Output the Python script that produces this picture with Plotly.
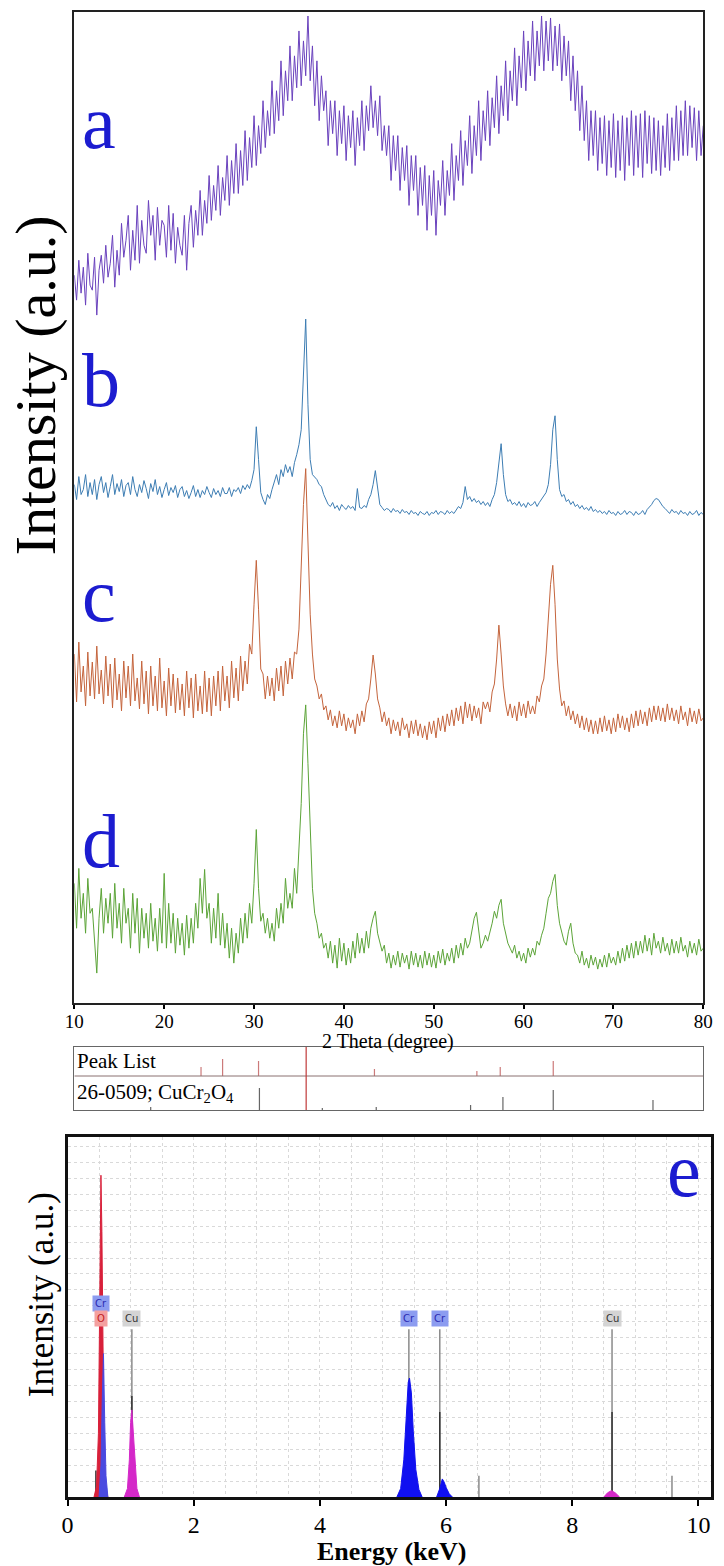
import plotly.graph_objects as go

W, H = 724, 1566

# ---------------- XRD data (2 theta grid, offset intensities in a.u.) ----------------
TWO_THETA = [round(10 + 0.25 * i, 2) for i in range(281)]

XRD_A = [
    730, 705, 745, 712, 738, 700, 752, 720, 715, 748, 690, 735, 750, 722, 760, 728,
    742, 770, 718, 755, 730, 782, 748, 765, 790, 735, 775, 745, 800, 742, 785, 760,
    752, 805, 770, 790, 745, 798, 760, 785, 780, 748, 800, 755, 792, 742, 778, 760,
    750, 790, 735, 782, 800, 758, 795, 770, 815, 770, 805, 782, 830, 785, 820, 795,
    840, 790, 828, 805, 850, 800, 845, 812, 862, 812, 855, 820, 875, 825, 868, 838,
    890, 840, 880, 852, 905, 858, 895, 870, 925, 872, 915, 885, 945, 890, 935, 905,
    960, 905, 950, 918, 975, 920, 965, 930, 990, 925, 960, 900, 945, 885, 930, 895,
    915, 860, 905, 872, 905, 850, 895, 862, 900, 845, 890, 858, 895, 840, 888, 860,
    905, 855, 900, 875, 920, 878, 905, 870, 910, 855, 880, 850, 880, 825, 870, 835,
    870, 815, 858, 825, 860, 800, 850, 815, 850, 790, 838, 800, 840, 775, 830, 790,
    835, 770, 825, 800, 845, 790, 835, 810, 862, 805, 850, 825, 875, 820, 865, 840,
    890, 832, 880, 850, 905, 845, 895, 865, 915, 860, 908, 878, 930, 872, 920, 890,
    945, 885, 935, 905, 958, 900, 950, 918, 975, 915, 965, 930, 985, 925, 975, 940,
    990, 935, 985, 945, 988, 935, 980, 940, 982, 925, 970, 930, 965, 905, 950, 895,
    935, 875, 920, 865, 905, 845, 895, 850, 895, 835, 888, 842, 890, 830, 885, 838,
    892, 828, 885, 835, 890, 825, 888, 840, 895, 830, 890, 838, 892, 828, 895, 842,
    890, 832, 888, 835, 885, 830, 880, 838, 892, 835, 888, 845, 900, 845, 895, 850,
    905, 850, 900, 858, 898, 845, 895, 850, 880,
]

XRD_B = [
    520, 505, 528, 510, 515, 530, 508, 522, 510, 525, 505, 520, 528, 512, 522, 507,
    518, 530, 510, 521, 513, 525, 508, 519, 522, 510, 528, 515, 508, 520, 512, 524,
    516, 506, 521, 513, 525, 510, 518, 507, 515, 522, 509, 517, 512, 519, 507, 515,
    518, 508, 514, 506, 512, 519, 508, 515, 507, 514, 510, 518, 512, 507, 516, 510,
    514, 508, 517, 511, 511, 517, 508, 515, 513, 517, 511, 519, 515, 520, 516, 524,
    535, 578, 545, 512, 505, 500, 510, 506, 515, 522, 530, 520, 535, 528, 540, 532,
    538, 528, 542, 550, 560, 575, 640, 686, 600, 545, 530, 528, 525, 520, 518, 510,
    505, 500, 498, 502, 496, 499, 494, 500, 497, 495, 499, 496, 498, 494, 516, 497,
    496, 499, 497, 505, 510, 520, 534, 515, 500, 497, 494, 496, 495, 492, 496, 493,
    494, 491, 495, 492, 493, 490, 494, 491, 492, 489, 493, 491, 490, 493, 489, 492,
    491, 494, 490, 493, 492, 490, 494, 491, 493, 491, 495, 498, 496, 502, 518, 505,
    508, 503, 506, 502, 504, 500, 503, 499, 502, 498, 505, 510, 522, 545, 561, 530,
    510, 503, 505, 500, 502, 499, 503, 498, 501, 497, 502, 499, 500, 503, 498, 502,
    505, 508, 512, 520, 540, 575, 589, 545, 515, 508, 510, 503, 505, 500, 503, 498,
    500, 496, 499, 495, 497, 494, 498, 493, 495, 492, 494, 491, 493, 490, 494, 491,
    492, 489, 493, 490, 491, 494, 490, 493, 492, 489, 493, 490, 491, 494, 490, 495,
    497, 500, 504, 506, 505, 501, 498, 496, 494, 491, 495, 492, 493, 490, 494, 491,
    492, 489, 493, 490, 491, 494, 489, 492, 490,
]

XRD_C = [
    350, 302, 362, 312, 338, 298, 352, 308, 342, 305, 358, 310, 334, 300, 348, 308,
    340, 296, 346, 304, 330, 293, 343, 306, 338, 298, 350, 303, 326, 295, 343, 300,
    333, 290, 338, 298, 328, 293, 346, 296, 323, 288, 336, 298, 330, 291, 326, 294,
    320, 288, 333, 296, 326, 286, 330, 293, 318, 290, 333, 292, 326, 288, 328, 298,
    333, 293, 338, 303, 328, 296, 343, 306, 336, 303, 348, 313, 343, 320, 360, 350,
    400, 444, 395, 335, 330, 305, 328, 308, 326, 303, 336, 313, 338, 308, 343, 320,
    346, 325, 352, 350, 375, 430, 500, 536, 470, 390, 350, 325, 318, 305, 310, 294,
    298, 284, 294, 278, 288, 276, 293, 278, 290, 273, 286, 276, 284, 270, 290, 278,
    293, 282, 300, 305, 325, 349, 330, 305, 296, 282, 292, 278, 286, 270, 284, 273,
    282, 268, 286, 274, 280, 266, 283, 270, 284, 268, 280, 266, 278, 264, 282, 270,
    283, 266, 286, 273, 288, 272, 290, 278, 294, 278, 296, 283, 298, 280, 302, 286,
    300, 283, 298, 286, 296, 280, 302, 295, 302, 292, 312, 320, 345, 379, 350, 318,
    300, 288, 300, 286, 298, 283, 302, 288, 300, 286, 303, 290, 298, 290, 308, 302,
    318, 325, 350, 390, 420, 439, 400, 345, 315, 298, 303, 288, 298, 284, 293, 280,
    290, 276, 288, 274, 286, 272, 284, 270, 283, 270, 286, 272, 288, 273, 284, 270,
    286, 272, 290, 276, 288, 274, 286, 272, 290, 276, 293, 278, 294, 280, 292, 278,
    296, 282, 298, 284, 298, 283, 296, 282, 300, 284, 296, 283, 294, 280, 298, 284,
    292, 278, 296, 282, 293, 280, 295, 283, 286,
]

XRD_D = [
    120, 75, 135, 85, 110, 70, 125, 90, 95, 60, 30, 85, 115, 70, 105, 80,
    110, 65, 120, 75, 100, 60, 115, 80, 95, 55, 110, 70, 105, 50, 95, 65,
    90, 55, 100, 62, 85, 52, 95, 60, 130, 55, 100, 60, 90, 50, 85, 58,
    80, 48, 88, 55, 85, 60, 100, 75, 125, 90, 134, 85, 100, 60, 95, 65,
    110, 58, 90, 55, 80, 45, 75, 40, 70, 50, 85, 60, 90, 65, 100, 80,
    120, 174, 115, 82, 90, 70, 85, 65, 80, 62, 95, 75, 100, 80, 125, 95,
    110, 95, 135, 110, 150, 200, 270, 299, 240, 170, 115, 90, 80, 65, 70, 55,
    60, 45, 62, 40, 58, 35, 65, 42, 60, 38, 55, 40, 62, 45, 70, 50,
    65, 50, 72, 55, 75, 85, 92, 70, 60, 52, 58, 40, 50, 35, 48, 38,
    52, 36, 50, 40, 48, 34, 52, 38, 50, 36, 48, 35, 52, 38, 50, 36,
    48, 35, 52, 40, 54, 38, 50, 42, 55, 40, 58, 45, 60, 48, 65, 55,
    60, 72, 85, 91, 70, 55, 60, 68, 62, 70, 80, 92, 85, 98, 104, 80,
    68, 60, 55, 50, 58, 45, 52, 42, 50, 40, 55, 46, 55, 48, 62, 58,
    68, 75, 90, 105, 110, 122, 129, 98, 80, 70, 62, 58, 72, 80, 60, 50,
    48, 40, 52, 38, 45, 35, 48, 38, 46, 34, 44, 36, 48, 36, 50, 40,
    46, 38, 52, 40, 55, 42, 58, 45, 60, 45, 62, 48, 62, 50, 68, 52,
    65, 48, 70, 55, 62, 50, 66, 52, 60, 48, 64, 50, 62, 50, 66, 52,
    58, 46, 62, 50, 60, 48, 64, 52, 55,
]

SERIES_LABELS = ["a", "b", "c", "d"]

# ---------------- Reference peak list (2 theta, stick heights) ----------------
PEAK_LIST_POS = [24.1, 26.5, 30.5, 43.4, 54.8, 57.4, 63.3]
PEAK_LIST_H = [9, 17, 15, 7, 5, 9, 15]
REF_POS = [18.5, 30.6, 37.6, 43.6, 54.1, 57.7, 63.3, 74.4]
REF_H = [3, 22, 2, 3, 5, 13, 20, 10]
MAIN_PEAK = 35.8

# ---------------- EDS data (energy keV, counts a.u.) ----------------
EDS_O_E = [0.42, 0.46, 0.49, 0.51, 0.53, 0.545, 0.56, 0.58, 0.61, 0.64]
EDS_O_I = [0, 10, 60, 180, 303, 250, 120, 40, 8, 0]
EDS_CRL_E = [0.50, 0.53, 0.55, 0.57, 0.59, 0.61, 0.64]
EDS_CRL_I = [0, 30, 90, 135, 70, 20, 0]
EDS_CUL_E = [0.90, 0.95, 0.98, 1.00, 1.02, 1.04, 1.07, 1.10, 1.14]
EDS_CUL_I = [0, 8, 35, 70, 82, 65, 30, 8, 0]
EDS_CRKA_E = [5.22, 5.28, 5.33, 5.37, 5.40, 5.42, 5.45, 5.48, 5.52, 5.57, 5.62]
EDS_CRKA_I = [0, 8, 35, 80, 108, 112, 98, 62, 26, 7, 0]
EDS_CRKB_E = [5.85, 5.90, 5.94, 5.97, 6.00, 6.05, 6.10]
EDS_CRKB_I = [0, 8, 17, 14, 9, 3, 0]
EDS_CUK_E = [8.50, 8.56, 8.62, 8.68, 8.75]
EDS_CUK_I = [0, 4, 6, 4, 0]

MARKER_E = [1.02, 5.41, 5.90, 6.52, 8.63, 9.58]
MARKER_H = [158, 158, 158, 20, 158, 20]
MARKER_DARK_E = [0.45, 1.02, 5.90, 8.63]
MARKER_DARK_H = [25, 95, 80, 80]

EDS_LABELS = [("Cr", 0.53, 182, "#8c9cf0", "#2a2ab0"),
              ("O", 0.53, 168, "#f4a0a0", "#c02020"),
              ("Cu", 1.02, 168, "#d4d4d4", "#333333"),
              ("Cr", 5.41, 168, "#8c9cf0", "#2a2ab0"),
              ("Cr", 5.90, 168, "#8c9cf0", "#2a2ab0"),
              ("Cu", 8.63, 168, "#d4d4d4", "#333333")]


def px(x):
    return x / W


def py(y):
    return 1 - y / H


SERIF = "Liberation Serif, Times New Roman, serif"

fig = go.Figure()

colors = ["#6a42bd", "#3d7db3", "#c4643c", "#5ca438"]
for vals, col in zip([XRD_A, XRD_B, XRD_C, XRD_D], colors):
    fig.add_trace(go.Scatter(x=TWO_THETA, y=vals, mode="lines",
                             line=dict(color=col, width=1), xaxis="x", yaxis="y",
                             showlegend=False, hoverinfo="skip"))


def sticks(pos, heights, base):
    xs, ys = [], []
    for p, h in zip(pos, heights):
        xs += [p, p, None]
        ys += [base, base + h, None]
    return xs, ys


PL_MID = 34
PL_TOP = 63
xs, ys = sticks(PEAK_LIST_POS, PEAK_LIST_H, PL_MID)
fig.add_trace(go.Scatter(x=xs, y=ys, mode="lines", line=dict(color="#cc7a7a", width=1.2),
                         xaxis="x2", yaxis="y2", showlegend=False, hoverinfo="skip"))
xs, ys = sticks(REF_POS, REF_H, 0)
fig.add_trace(go.Scatter(x=xs, y=ys, mode="lines", line=dict(color="#666666", width=1.2),
                         xaxis="x2", yaxis="y2", showlegend=False, hoverinfo="skip"))
fig.add_trace(go.Scatter(x=[10, 80], y=[PL_MID, PL_MID], mode="lines",
                         line=dict(color="#8a7070", width=1),
                         xaxis="x2", yaxis="y2", showlegend=False, hoverinfo="skip"))
fig.add_trace(go.Scatter(x=[MAIN_PEAK, MAIN_PEAK], y=[0, PL_TOP], mode="lines",
                         line=dict(color="#c03a3a", width=1.2),
                         xaxis="x2", yaxis="y2", showlegend=False, hoverinfo="skip"))

# EDS
xs, ys = sticks(MARKER_E, MARKER_H, 0)
fig.add_trace(go.Scatter(x=xs, y=ys, mode="lines", line=dict(color="#8a8a8a", width=1.5),
                         xaxis="x3", yaxis="y3", showlegend=False, hoverinfo="skip"))
xs, ys = sticks(MARKER_DARK_E, MARKER_DARK_H, 0)
fig.add_trace(go.Scatter(x=xs, y=ys, mode="lines", line=dict(color="#333333", width=1.5),
                         xaxis="x3", yaxis="y3", showlegend=False, hoverinfo="skip"))

fills = [(EDS_O_E, EDS_O_I, "#d8203a"), (EDS_CRL_E, EDS_CRL_I, "#4a4ae0"),
         (EDS_CUL_E, EDS_CUL_I, "#d428c8"), (EDS_CRKA_E, EDS_CRKA_I, "#1010f0"),
         (EDS_CRKB_E, EDS_CRKB_I, "#1010f0"), (EDS_CUK_E, EDS_CUK_I, "#d428c8")]
for e, i, c in fills:
    fig.add_trace(go.Scatter(x=e, y=i, mode="lines", fill="tozeroy", fillcolor=c,
                             line=dict(color=c, width=1), xaxis="x3", yaxis="y3",
                             showlegend=False, hoverinfo="skip"))

annotations = []
label_pos = [(73, 122), (73, 380), (73, 595), (73, 841)]
for lab, (lx, ly) in zip(SERIES_LABELS, label_pos):
    annotations.append(dict(text=lab, x=px(lx), y=py(ly), xref="paper", yref="paper",
                            xanchor="left", yanchor="middle", showarrow=False,
                            font=dict(family=SERIF, size=76, color="#1c1cd0")))
annotations.append(dict(text="e", x=px(712), y=py(1170), xref="paper", yref="paper",
                        xanchor="right", yanchor="middle", showarrow=False,
                        font=dict(family=SERIF, size=76, color="#1c1cd0")))
annotations.append(dict(text="2 Theta (degree)", x=px(389), y=py(1041), xref="paper", yref="paper",
                        xanchor="center", yanchor="middle", showarrow=False,
                        font=dict(family=SERIF, size=20, color="black")))
annotations.append(dict(text="Intensity (a.u.)", x=px(27), y=py(385), xref="paper", yref="paper",
                        xanchor="center", yanchor="middle", showarrow=False, textangle=-90,
                        font=dict(family=SERIF, size=58, color="black")))
annotations.append(dict(text="<b>Energy (keV)</b>", x=px(392), y=py(1551), xref="paper", yref="paper",
                        xanchor="center", yanchor="middle", showarrow=False,
                        font=dict(family=SERIF, size=26, color="black")))
annotations.append(dict(text="Intensity (a.u.)", x=px(33), y=py(1295), xref="paper", yref="paper",
                        xanchor="center", yanchor="middle", showarrow=False, textangle=-90,
                        font=dict(family=SERIF, size=35, color="black")))
annotations.append(dict(text="Peak List", x=px(68), y=py(1061), xref="paper", yref="paper",
                        xanchor="left", yanchor="middle", showarrow=False,
                        font=dict(family=SERIF, size=21, color="black")))
annotations.append(dict(text="26-0509; CuCr<sub>2</sub>O<sub>4</sub>", x=px(68), y=py(1093),
                        xref="paper", yref="paper", xanchor="left", yanchor="middle", showarrow=False,
                        font=dict(family=SERIF, size=21, color="black")))
for txt, e, yv, bg, fc in EDS_LABELS:
    annotations.append(dict(text=txt, x=e, y=yv, xref="x3", yref="y3", xanchor="center",
                            yanchor="middle", showarrow=False, bgcolor=bg, borderpad=2,
                            font=dict(family="DejaVu Sans, sans-serif", size=10, color=fc)))

fig.update_layout(
    width=W, height=H, margin=dict(l=0, r=0, t=0, b=0),
    paper_bgcolor="white", plot_bgcolor="white", showlegend=False,
    annotations=annotations,
    xaxis=dict(domain=[px(67), px(712)], range=[10, 80], anchor="y",
               tickmode="array", tickvals=[10, 20, 30, 40, 50, 60, 70, 80],
               ticks="outside", ticklen=4, tickwidth=1.5, tickcolor="black",
               ticklabelstandoff=-4,
               showline=True, linecolor="#222222", linewidth=2, mirror=True,
               showgrid=False, zeroline=False,
               tickfont=dict(family=SERIF, size=19, color="black")),
    yaxis=dict(domain=[py(1003), py(12)], range=[0, 994], anchor="x",
               showticklabels=False, ticks="", showline=True, linecolor="#222222",
               linewidth=2, mirror=True, showgrid=False, zeroline=False),
    xaxis2=dict(domain=[px(67), px(712)], range=[10, 80], anchor="y2",
                showticklabels=False, ticks="", showline=True, linecolor="#666666",
                linewidth=1.2, mirror=True, showgrid=False, zeroline=False),
    yaxis2=dict(domain=[py(1110), py(1047)], range=[0, PL_TOP], anchor="x2",
                showticklabels=False, ticks="", showline=True, linecolor="#666666",
                linewidth=1.2, mirror=True, showgrid=False, zeroline=False),
    xaxis3=dict(domain=[px(60), px(720)], range=[0, 10.2], anchor="y3",
                tickmode="array", tickvals=[0, 2, 4, 6, 8, 10],
                ticks="outside", ticklen=6, tickwidth=2, ticklabelstandoff=-2,
                tickcolor="black", showline=True, linecolor="#111111", linewidth=2.5,
                mirror=True, showgrid=True, gridcolor="#d9d9d9", griddash="dot",
                gridwidth=1, zeroline=False,
                minor=dict(tickmode="array", tickvals=[0.5 * k for k in range(21)],
                           showgrid=True, gridcolor="#d9d9d9", griddash="dot", ticks=""),
                tickfont=dict(family=SERIF, size=24, color="black")),
    yaxis3=dict(domain=[py(1497), py(1137)], range=[0, 339], anchor="x3",
                showticklabels=False, ticks="", showline=True, linecolor="#111111",
                linewidth=2.5, mirror=True, showgrid=True, gridcolor="#d9d9d9",
                griddash="dot", gridwidth=1, dtick=15, zeroline=False),
)

fig.write_html("out.html", config={"displayModeBar": False},
               post_script="document.body.style.margin='0';document.body.style.overflow='hidden';")
